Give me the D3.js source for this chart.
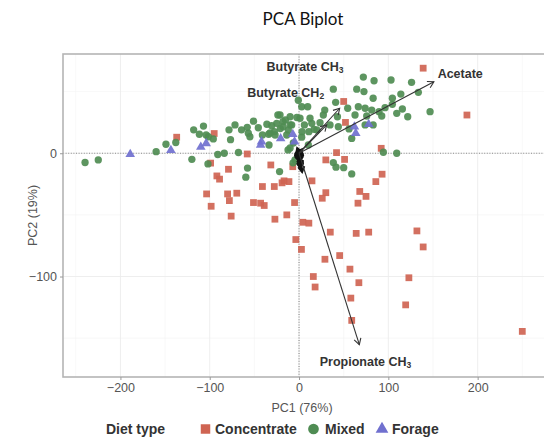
<!DOCTYPE html>
<html>
<head>
<meta charset="utf-8">
<script src="https://cdn.jsdelivr.net/npm/d3@7"></script>
<style>
  html, body { margin: 0; padding: 0; background: #fff; }
  svg { display: block; }
</style>
</head>
<body>
<svg id="chart" width="544" height="438"></svg>
<script>
// PCA scores by diet type: [PC1, PC2]
const concentrate = [
  [139,69],[188,31],[50,42],[52,25],[92,4],[42,0.5],[51,-5],[30,-5.4],[93,-17],[86,-23],
  [68,-31],[75,-35],[66,-40.5],[30,-32],[26,-36.5],[14.5,-22.4],[35,-64],[64,-65],[78,-64],
  [132,-63],[139,-76],[-3.6,-70],[2.7,-78],[29,-86],[45.5,-83],[16,-100],[18,-108.5],[57,-94],
  [67,-105],[58,-117.5],[59,-135.6],[123,-101],[119.4,-123],[250,-144.5],[-31.6,-9.5],[-7,-10.9],
  [-16.8,-22.4],[-11.3,-23],[-5,-40],[-13.7,-50],[4.3,-56],[11,-56.7],[-27,-53.5],[-41,-27],
  [-27.7,-27],[-43,-40.5],[-51,-40],[-39,-42.4],[-80,-33],[-69.7,-32.4],[-78,-38.4],[-98.4,-43],
  [-103.5,-33],[-76,-51],[-92,-18.4],[-89,-21],[-79,-13],[-58,-0.6],[-137,13],[-95,16],[-99,-8],
  [-19,-24]
];
const mixed = [
  [-239.6,-7.5],[-224.8,-5.4],[-160,1.3],[-149,7.3],[-138,8.7],[-118,19],[-107,22],[-120,-4.9],
  [-102,-8.7],[-96,11.6],[-104,14.8],[-91,-1],[-83.7,0],[-67.8,0.6],[-78.4,19],[-76.7,11],
  [-71.7,23],[-64.4,19],[-58,21],[-51,26],[-45.6,20.7],[-41,14.8],[-56.8,16.2],[-55,13.4],
  [-59.6,-19.4],[-57.7,-12],[-33.6,6.7],[-27.7,17.5],[-25,24.3],[-23.7,31],[-21.3,31],[-15.2,27],
  [-10,29.6],[-2.4,29],[-21.8,-14.9],[-32.5,16.4],[-36,23.5],[-30.6,22.4],[-18,25.6],[-21,20],
  [-6.4,8.3],[-13.8,14.8],[-34,15.4],[3,13],[-0.8,43],[3,37.7],[9.7,37.7],[1.1,28.4],[12.3,28.4],
  [20,18.9],[11,17.5],[6,23],[10.4,6.7],[38.4,52],[41,41.3],[28.8,35],[27.2,31],[23.5,24.8],
  [34.7,23],[43,29.6],[44,21.5],[56,19.7],[54.5,36.5],[62.7,31],[66.4,37.7],[64.6,52],[72,61.8],
  [72.7,50],[74,36.5],[75.8,30.2],[74,23],[83,23],[81.4,35],[83,44.6],[84,58.8],[89.6,33.7],
  [92.6,30.2],[96.3,37],[103,59.4],[104.5,44.6],[104.5,39.7],[109.4,32.4],[114,48],[115.7,35.9],
  [121.7,29.6],[126,57.5],[133.6,49.4],[146.7,33.7],[59,12],[94.4,0.8],[109.4,0],[38.4,-7.6],
  [41.4,-11.3],[50,-11.7],[59,-16.8],[-10,4.3],[-4.5,-5.4],[-6.7,-7.8],[-12.3,2.7],[-111.6,15.4],
  [-101.6,13.4],[-26.8,14.8],[-10,23],[14.3,24.3],[3.4,17.5],[16.8,19.4],[-8.2,23],[-12,18.9],
  [-17.9,21.5]
];
const forage = [
  [-189,-0.8],[-143.5,2.4],[-110,5],[-104,8],[-43,6.7],[-42,9.4],[-20.6,12],[-7,15.4],[-5,9.4],
  [62,21.5],[63.5,16.2],[78,23.5]
];

// Variable loadings (scaled) and where their names sit
const loadingNames = ["Acetate", "Butyrate CH3", "Butyrate CH2", "Propionate CH3"];
const loadingValues = [[151,58],[45.5,36.5],[31,23],[67.5,-155.3]];
const labelPositions = [[180.5,63.4],[6.7,69],[-15,48],[74.5,-170]];
// Short loadings of the remaining variables, all bunched at the origin
const minorLoadings = [[3.4,-15],[2,-10],[-2,4],[3,3],[-1,-6],[1.5,-12],[-3,-2],[2.5,-4]];

const xMajor = [-200,-100,0,100,200];
const yMajor = [-100,0];
const xMinor = [-250,-150,-50,50,150,250];
const yMinor = [-150,-50,50];

const groups = [
  { name: "Concentrate", data: concentrate, color: "#cf6452", shape: "square" },
  { name: "Mixed", data: mixed, color: "#4f8c53", shape: "circle" },
  { name: "Forage", data: forage, color: "#7070cf", shape: "triangle" }
];

const svg = d3.select("#chart");
const m = { left: 63, top: 54, right: 0, bottom: 61 };
const W = 544, H = 438;
const pw = W - m.left - m.right, ph = H - m.top - m.bottom;

const x = d3.scaleLinear().domain([-264.3, 274.3]).range([m.left, m.left + pw]);
const y = d3.scaleLinear().domain([-181.5, 80.5]).range([m.top + ph, m.top]);

// Title
svg.append("text")
  .attr("x", 303).attr("y", 25)
  .attr("text-anchor", "middle")
  .attr("font-family", "Lato, 'Open Sans', sans-serif")
  .attr("font-size", 17)
  .attr("fill", "#111")
  .text("PCA Biplot");

const clipId = "panel-clip";
svg.append("clipPath").attr("id", clipId)
  .append("rect").attr("x", m.left).attr("y", m.top).attr("width", pw).attr("height", ph);

const panel = svg.append("g").attr("clip-path", `url(#${clipId})`);

// Grid
panel.selectAll(".gxm").data(xMinor).join("line")
  .attr("x1", d => x(d)).attr("x2", d => x(d)).attr("y1", m.top).attr("y2", m.top + ph)
  .attr("stroke", "#f4f4f4").attr("stroke-width", 0.6);
panel.selectAll(".gym").data(yMinor).join("line")
  .attr("y1", d => y(d)).attr("y2", d => y(d)).attr("x1", m.left).attr("x2", m.left + pw)
  .attr("stroke", "#f4f4f4").attr("stroke-width", 0.6);
panel.selectAll(".gxM").data(xMajor).join("line")
  .attr("x1", d => x(d)).attr("x2", d => x(d)).attr("y1", m.top).attr("y2", m.top + ph)
  .attr("stroke", "#ececec").attr("stroke-width", 0.9);
panel.selectAll(".gyM").data(yMajor).join("line")
  .attr("y1", d => y(d)).attr("y2", d => y(d)).attr("x1", m.left).attr("x2", m.left + pw)
  .attr("stroke", "#ececec").attr("stroke-width", 0.9);

// Zero reference lines
panel.append("line")
  .attr("x1", x(0)).attr("x2", x(0)).attr("y1", m.top).attr("y2", m.top + ph)
  .attr("stroke", "#8a8a8a").attr("stroke-width", 1.1).attr("stroke-dasharray", "1,1.6");
panel.append("line")
  .attr("x1", m.left).attr("x2", m.left + pw).attr("y1", y(0)).attr("y2", y(0))
  .attr("stroke", "#8a8a8a").attr("stroke-width", 1.1).attr("stroke-dasharray", "1,1.6");

// Points
const sym = {
  square: d3.symbol().type(d3.symbolSquare).size(46),
  circle: d3.symbol().type(d3.symbolCircle).size(42),
  triangle: d3.symbol().type(d3.symbolTriangle).size(40)
};
groups.forEach(g => {
  panel.append("g").selectAll("path").data(g.data).join("path")
    .attr("transform", d => `translate(${x(d[0])},${y(d[1])})`)
    .attr("d", sym[g.shape]())
    .attr("fill", g.color)
    .attr("fill-opacity", 0.92);
});

// Loading arrows
function arrow(g, v, color, width, head) {
  const x0 = x(0), y0 = y(0), x1 = x(v[0]), y1 = y(v[1]);
  const a = Math.atan2(y1 - y0, x1 - x0);
  g.append("line").attr("x1", x0).attr("y1", y0).attr("x2", x1).attr("y2", y1)
    .attr("stroke", color).attr("stroke-width", width);
  const h = head, s = Math.PI / 6;
  g.append("path")
    .attr("d", `M${x1 - h * Math.cos(a - s)},${y1 - h * Math.sin(a - s)}L${x1},${y1}L${x1 - h * Math.cos(a + s)},${y1 - h * Math.sin(a + s)}`)
    .attr("fill", "none").attr("stroke", color).attr("stroke-width", width);
}
const arrows = panel.append("g");
minorLoadings.forEach(v => {
  const g = arrows.append("g");
  arrow(g, v, "#111", 2.2, 6);
});
arrows.append("circle").attr("cx", x(0)).attr("cy", y(0) + 2).attr("r", 5).attr("fill", "#111");
arrows.append("circle").attr("cx", x(1.5)).attr("cy", y(-8)).attr("r", 3.5).attr("fill", "#111");
loadingValues.forEach(v => arrow(arrows, v, "#333", 1.1, 7));

// Loading labels with subscripts
loadingNames.forEach((n, i) => {
  const t = panel.append("text")
    .attr("x", x(labelPositions[i][0])).attr("y", y(labelPositions[i][1]))
    .attr("text-anchor", "middle").attr("dominant-baseline", "middle")
    .attr("font-family", "'Liberation Sans', Arial, sans-serif")
    .attr("font-weight", "bold").attr("font-size", 12.5).attr("fill", "#333");
  const mm = n.match(/^(.*CH)(\d)$/);
  if (mm) {
    t.append("tspan").text(mm[1]);
    t.append("tspan").attr("font-size", 8.5).attr("dy", 3).text(mm[2]);
  } else {
    t.text(n);
  }
});

// Panel border
svg.append("rect")
  .attr("x", m.left).attr("y", m.top).attr("width", pw + 4).attr("height", ph)
  .attr("fill", "none").attr("stroke", "#b5b5b5").attr("stroke-width", 1.6);

// Axes
const fmt = d => d < 0 ? "\u2212" + Math.abs(d) : String(d);
const xAxis = svg.append("g").attr("transform", `translate(0,${m.top + ph})`)
  .call(d3.axisBottom(x).tickValues(xMajor).tickSize(3).tickPadding(3).tickFormat(fmt));
const yAxis = svg.append("g").attr("transform", `translate(${m.left},0)`)
  .call(d3.axisLeft(y).tickValues(yMajor).tickSize(3).tickPadding(3).tickFormat(fmt));
[xAxis, yAxis].forEach(a => {
  a.select(".domain").remove();
  a.selectAll(".tick line").attr("stroke", "#9a9a9a");
  a.selectAll(".tick text").attr("fill", "#555")
    .attr("font-family", "'Liberation Sans', Arial, sans-serif").attr("font-size", 12.5);
});

svg.append("text")
  .attr("x", 302).attr("y", 412)
  .attr("text-anchor", "middle")
  .attr("font-family", "'Liberation Sans', Arial, sans-serif")
  .attr("font-size", 12.5).attr("fill", "#555")
  .text("PC1 (76%)");
svg.append("text")
  .attr("transform", `translate(37,${(m.top + m.top + ph) / 2}) rotate(-90)`)
  .attr("text-anchor", "middle")
  .attr("font-family", "'Liberation Sans', Arial, sans-serif")
  .attr("font-size", 12.5).attr("fill", "#555")
  .text("PC2 (19%)");

// Legend
const lg = svg.append("g").attr("font-family", "'Liberation Sans', Arial, sans-serif")
  .attr("font-weight", "bold").attr("font-size", 14).attr("fill", "#333");
lg.append("text").attr("x", 106).attr("y", 434).text("Diet type");
const keyX = [205.5, 313.5, 382];
const textX = [215, 325, 392];
groups.forEach((g, i) => {
  lg.append("path")
    .attr("transform", `translate(${keyX[i]},429)`)
    .attr("d", d3.symbol().type(g.shape === "square" ? d3.symbolSquare : g.shape === "circle" ? d3.symbolCircle : d3.symbolTriangle)
      .size(g.shape === "square" ? 90 : g.shape === "circle" ? 90 : 70)())
    .attr("fill", g.color);
  lg.append("text").attr("x", textX[i]).attr("y", 434).text(g.name);
});
</script>
</body>
</html>
